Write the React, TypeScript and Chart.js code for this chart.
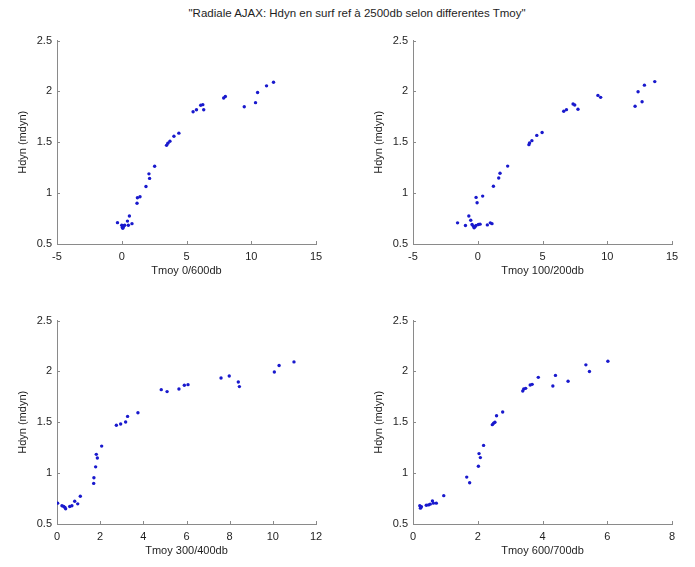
import React, { useEffect, useRef } from "react";
import { Chart, registerables } from "chart.js";

Chart.register(...registerables);

const TITLE = '"Radiale AJAX: Hdyn en surf ref à 2500db selon differentes Tmoy"';
const Y_LABEL = "Hdyn (mdyn)";

// Subplot 1: Tmoy 0/600db
const tmoy0_600 = [-0.33, 0.0, 0.05, 0.13, 0.08, 0.15, 0.23, 0.44, 0.51, 0.59, 0.79, 1.18, 1.21, 1.41, 1.87, 2.15, 2.1, 2.54, 3.46, 3.56, 3.72, 4.03, 4.41, 5.51, 5.77, 6.1, 6.26, 6.33, 7.87, 8.0, 9.46, 10.33, 10.49, 11.18, 11.72];
const hdyn0_600 = [0.71, 0.685, 0.665, 0.67, 0.655, 0.68, 0.685, 0.725, 0.685, 0.775, 0.7, 0.9, 0.955, 0.965, 1.065, 1.145, 1.19, 1.265, 1.47, 1.49, 1.51, 1.56, 1.59, 1.8, 1.82, 1.865, 1.87, 1.82, 1.935, 1.95, 1.85, 1.89, 1.99, 2.055, 2.09];

// Subplot 2: Tmoy 100/200db
const tmoy100_200 = [-1.56, -0.95, -0.69, -0.54, -0.44, -0.33, -0.21, -0.28, -0.13, 0.05, 0.18, -0.13, -0.05, 0.38, 0.74, 0.97, 1.1, 1.21, 1.62, 1.72, 2.31, 3.95, 4.0, 4.18, 4.56, 4.97, 6.64, 6.85, 7.36, 7.49, 7.74, 9.28, 9.49, 12.15, 12.38, 12.69, 12.87, 13.67];
const hdyn100_200 = [0.708, 0.682, 0.776, 0.734, 0.692, 0.675, 0.669, 0.659, 0.682, 0.692, 0.695, 0.958, 0.906, 0.971, 0.688, 0.708, 0.7, 1.068, 1.149, 1.195, 1.266, 1.477, 1.494, 1.516, 1.568, 1.597, 1.805, 1.821, 1.877, 1.867, 1.825, 1.961, 1.942, 1.854, 1.997, 1.899, 2.062, 2.097];

// Subplot 3: Tmoy 300/400db
const tmoy300_400 = [0.03, 0.23, 0.31, 0.37, 0.4, 0.59, 0.69, 0.82, 0.96, 1.08, 1.7, 1.71, 1.79, 1.87, 1.82, 2.07, 2.75, 2.95, 3.18, 3.27, 3.75, 4.83, 5.1, 5.65, 5.9, 6.07, 7.6, 7.98, 8.4, 8.45, 10.07, 10.29, 10.98];
const hdyn300_400 = [0.705, 0.679, 0.672, 0.662, 0.649, 0.672, 0.679, 0.724, 0.698, 0.773, 0.899, 0.955, 1.062, 1.149, 1.185, 1.266, 1.471, 1.484, 1.503, 1.558, 1.594, 1.821, 1.802, 1.828, 1.864, 1.87, 1.935, 1.955, 1.896, 1.851, 1.994, 2.058, 2.094];

// Subplot 4: Tmoy 600/700db
const tmoy600_700 = [0.21, 0.23, 0.26, 0.41, 0.48, 0.53, 0.6, 0.63, 0.72, 0.95, 1.66, 1.75, 2.02, 2.04, 2.08, 2.18, 2.45, 2.49, 2.53, 2.58, 2.77, 3.39, 3.42, 3.48, 3.62, 3.68, 3.87, 4.32, 4.4, 4.79, 5.34, 5.45, 6.02];
const hdyn600_700 = [0.679, 0.656, 0.669, 0.685, 0.688, 0.695, 0.727, 0.705, 0.705, 0.779, 0.961, 0.906, 1.068, 1.192, 1.153, 1.273, 1.477, 1.49, 1.5, 1.565, 1.601, 1.808, 1.828, 1.834, 1.867, 1.873, 1.942, 1.857, 1.961, 1.903, 2.065, 2.0, 2.101];

const xLabels = ["Tmoy 0/600db", "Tmoy 100/200db", "Tmoy 300/400db", "Tmoy 600/700db"];
const xMins = [-5, -5, 0, 0];
const xMaxs = [15, 15, 12, 8];
const xSteps = [5, 5, 2, 2];
const yTicks = [0.5, 1, 1.5, 2, 2.5];

const FONT = "'Liberation Sans', Arial, Helvetica, sans-serif";
const AXIS_COLOR = "#8a8a8a";
const TEXT_COLOR = "#1e1e1e";
const DOT_COLOR = "rgb(25,25,205)";

const innerTicks = {
  id: "innerTicks",
  afterDraw(chart: any) {
    const { ctx, chartArea, scales } = chart;
    ctx.save();
    ctx.strokeStyle = AXIS_COLOR;
    ctx.lineWidth = 1;
    const xs = scales.x;
    xs.ticks.forEach((t: any) => {
      const px = Math.round(xs.getPixelForValue(t.value)) + 0.5;
      ctx.beginPath();
      ctx.moveTo(px, chartArea.bottom);
      ctx.lineTo(px, chartArea.bottom - 3);
      ctx.stroke();
    });
    const ys = scales.y;
    ys.ticks.forEach((t: any) => {
      const py = Math.round(ys.getPixelForValue(t.value)) + 0.5;
      ctx.beginPath();
      ctx.moveTo(chartArea.left, py);
      ctx.lineTo(chartArea.left + 3, py);
      ctx.stroke();
    });
    ctx.restore();
  },
};

const PLOT_W = 259;
const PLOT_H = 205;
const Y_AXIS_W = 50;
const X_AXIS_H = 40;
const PAD_TOP = 10;
const PAD_RIGHT = 14;

const fmt = (v: any) => String(Number(v));

function SubPlot(props: { xs: number[]; ys: number[]; idx: number; left: number; top: number }) {
  const ref = useRef<HTMLCanvasElement>(null);
  const { xs, ys, idx, left, top } = props;
  useEffect(() => {
    if (!ref.current) return;
    const data = xs.map((x, i) => ({ x, y: ys[i] }));
    const chart = new Chart(ref.current, {
      type: "scatter",
      data: {
        datasets: [
          {
            data,
            backgroundColor: DOT_COLOR,
            borderColor: DOT_COLOR,
            pointRadius: 1.7,
            pointBorderWidth: 0,
          },
        ],
      },
      options: {
        animation: false,
        responsive: false,
        maintainAspectRatio: false,
        events: [],
        layout: { padding: { left: 0, top: PAD_TOP, right: PAD_RIGHT, bottom: 0 } },
        plugins: { legend: { display: false }, tooltip: { enabled: false }, title: { display: false } },
        scales: {
          x: {
            type: "linear",
            min: xMins[idx],
            max: xMaxs[idx],
            afterFit: (a: any) => {
              a.height = X_AXIS_H;
            },
            ticks: {
              stepSize: xSteps[idx],
              color: TEXT_COLOR,
              padding: 6,
              font: { family: FONT, size: 11 },
              maxRotation: 0,
              callback: fmt,
            },
            grid: { display: true, drawOnChartArea: false, drawTicks: false },
            border: { display: true, color: AXIS_COLOR, width: 1 },
            title: {
              display: true,
              text: xLabels[idx],
              color: TEXT_COLOR,
              font: { family: FONT, size: 11 },
              padding: { top: 0, bottom: 6 },
            },
          },
          y: {
            type: "linear",
            min: 0.5,
            max: 2.5,
            afterFit: (a: any) => {
              a.width = Y_AXIS_W;
            },
            afterBuildTicks: (a: any) => {
              a.ticks = yTicks.map((v) => ({ value: v }));
            },
            ticks: {
              color: TEXT_COLOR,
              padding: 5,
              font: { family: FONT, size: 11 },
              callback: fmt,
            },
            grid: { display: true, drawOnChartArea: false, drawTicks: false },
            border: { display: true, color: AXIS_COLOR, width: 1 },
            title: {
              display: true,
              text: Y_LABEL,
              color: TEXT_COLOR,
              font: { family: FONT, size: 11 },
              padding: { top: 9, bottom: 0 },
            },
          },
        },
      },
      plugins: [innerTicks],
    });
    return () => chart.destroy();
  }, []);
  const w = Y_AXIS_W + PLOT_W + PAD_RIGHT;
  const h = PAD_TOP + PLOT_H + X_AXIS_H;
  return (
    <div style={{ position: "absolute", left: left - Y_AXIS_W, top: top - PAD_TOP, width: w, height: h }}>
      <canvas ref={ref} width={w} height={h} style={{ width: w, height: h, display: "block" }} />
    </div>
  );
}

export default function App() {
  return (
    <div style={{ position: "absolute", left: 0, top: 0, width: 695, height: 567, background: "#fff", overflow: "hidden" }}>
      <div
        style={{
          position: "absolute",
          left: 0,
          width: 714,
          top: 7,
          textAlign: "center",
          fontFamily: FONT,
          fontSize: 11.5,
          color: TEXT_COLOR,
          whiteSpace: "nowrap",
        }}
      >
        {TITLE}
      </div>
      <SubPlot xs={tmoy0_600} ys={hdyn0_600} idx={0} left={57} top={39} />
      <SubPlot xs={tmoy100_200} ys={hdyn100_200} idx={1} left={413} top={39} />
      <SubPlot xs={tmoy300_400} ys={hdyn300_400} idx={2} left={57} top={319} />
      <SubPlot xs={tmoy600_700} ys={hdyn600_700} idx={3} left={413} top={319} />
    </div>
  );
}
